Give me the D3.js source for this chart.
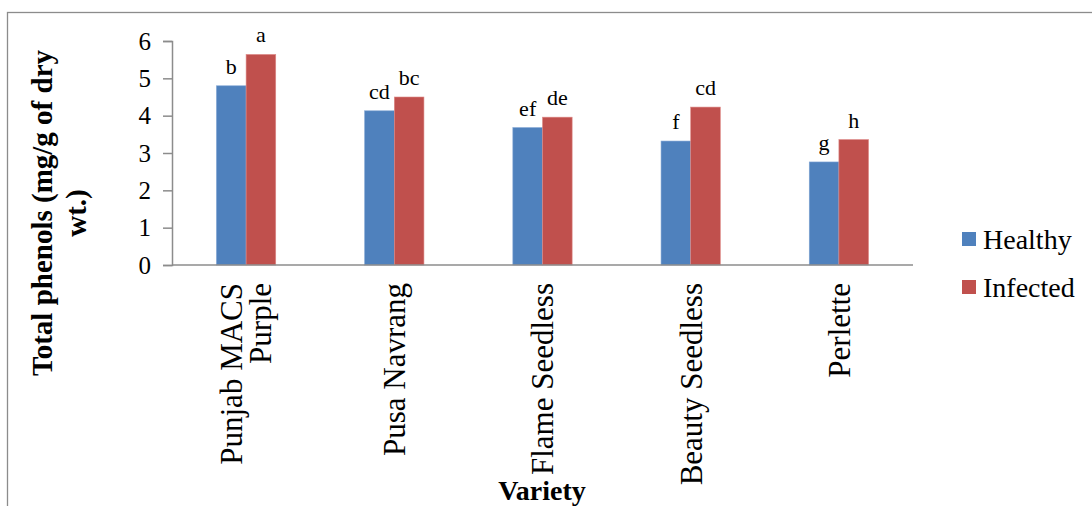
<!DOCTYPE html>
<html>
<head>
<meta charset="utf-8">
<script src="https://cdn.jsdelivr.net/npm/d3@7"></script>
</head>
<body style="margin:0">
<svg id="chart" width="1092" height="506"></svg>
<script>
// ---- data ----
const categories = [["Punjab MACS", "Purple"], ["Pusa Navrang"], ["Flame Seedless"], ["Beauty Seedless"], ["Perlette"]];
const seriesNames = ["Healthy", "Infected"];
const healthy = [4.80, 4.13, 3.68, 3.32, 2.76];
const infected = [5.64, 4.50, 3.96, 4.23, 3.36];
const healthyLetters = ["b", "cd", "ef", "f", "g"];
const infectedLetters = ["a", "bc", "de", "cd", "h"];
const yTicks = [0, 1, 2, 3, 4, 5, 6];
const colors = ["#4F81BD", "#C0504D"];

const FONT = "Times New Roman";
const svg = d3.select("#chart");

// outer frame (clipped by the image edges)
svg.append("rect")
  .attr("x", 7.5).attr("y", 12.5)
  .attr("width", 1200).attr("height", 600)
  .attr("fill", "none").attr("stroke", "#8c8c8c").attr("stroke-width", 1.3);

const pLeft = 172, pRight = 913, pTop = 41, pBottom = 265;
const keys = categories.map(c => c.join(" "));

const x0 = d3.scaleBand().domain(keys).range([pLeft, pRight]).paddingInner(0).paddingOuter(0);
const x1 = d3.scaleBand().domain(seriesNames).range([x0.bandwidth() * 0.3, x0.bandwidth() * 0.7]);
const y = d3.scaleLinear().domain([0, 6]).range([pBottom, pTop]);

function txt(parent, size, bold) {
  const t = parent.append("text").style("font-family", FONT).style("font-size", size + "px").attr("fill", "#000");
  if (bold) t.style("font-weight", "bold");
  return t;
}

// y axis
const yAxis = svg.append("g").attr("transform", `translate(${pLeft},0)`)
  .call(d3.axisLeft(y).tickValues(yTicks).tickSize(9).tickPadding(12).tickFormat(d3.format("d")));
yAxis.attr("font-family", null).attr("font-size", null);
yAxis.select(".domain").attr("stroke", "#8c8c8c").attr("stroke-width", 1.5);
yAxis.selectAll(".tick line").attr("stroke", "#8c8c8c").attr("stroke-width", 1.5);
yAxis.selectAll(".tick text").style("font-family", FONT).style("font-size", "25px").attr("fill", "#000");

// bars
const data = keys.map((k, i) => ({ key: k, vals: [healthy[i], infected[i]], letters: [healthyLetters[i], infectedLetters[i]] }));
const groups = svg.append("g").selectAll("g").data(data).join("g")
  .attr("transform", d => `translate(${x0(d.key)},0)`);

groups.selectAll("rect").data(d => d.vals.map((v, j) => ({ s: seriesNames[j], v, j })))
  .join("rect")
  .attr("x", d => x1(d.s))
  .attr("y", d => y(d.v))
  .attr("width", x1.bandwidth())
  .attr("height", d => y(0) - y(d.v))
  .attr("fill", d => colors[d.j])
  .attr("stroke", d => d.j === 0 ? "#7fa3d3" : "#de8a88")
  .attr("stroke-width", 0.6);

groups.each(function (d) {
  const g = d3.select(this);
  d.vals.forEach((v, j) => {
    txt(g, 22, false)
      .attr("x", x1(seriesNames[j]) + x1.bandwidth() / 2)
      .attr("y", y(v) - 12)
      .attr("text-anchor", "middle")
      .text(d.letters[j]);
  });
});

// x axis line
svg.append("line")
  .attr("x1", pLeft).attr("x2", pRight).attr("y1", y(0)).attr("y2", y(0))
  .attr("stroke", "#8c8c8c").attr("stroke-width", 1.5);

// category labels (rotated)
const lineGap = 29;
categories.forEach((lines, i) => {
  const cx = x0(keys[i]) + x0.bandwidth() / 2;
  const n = lines.length;
  lines.forEach((ln, k) => {
    const lx = cx + (k - (n - 1) / 2) * lineGap;
    txt(svg, 31, false)
      .attr("transform", `translate(${lx},283) rotate(-90)`)
      .attr("text-anchor", "end")
      .attr("dy", "0.35em")
      .text(ln);
  });
});

// axis titles
txt(svg, 28, true)
  .attr("x", 542).attr("y", 500)
  .attr("text-anchor", "middle")
  .text("Variety");

const yTitle = ["Total phenols (mg/g of dry", "wt.)"];
yTitle.forEach((ln, k) => {
  txt(svg, 29, true)
    .attr("transform", `translate(${42 + k * 34},213) rotate(-90)`)
    .attr("text-anchor", "middle")
    .attr("dy", "0.35em")
    .text(ln);
});

// legend
const legend = svg.append("g").attr("transform", "translate(962,232)");
seriesNames.forEach((s, j) => {
  const g = legend.append("g").attr("transform", `translate(0,${j * 48})`);
  g.append("rect").attr("width", 14).attr("height", 14).attr("fill", colors[j]);
  txt(g, 28, false).attr("x", 21).attr("y", 7).attr("dy", "0.35em").text(s);
});
</script>
</body>
</html>
